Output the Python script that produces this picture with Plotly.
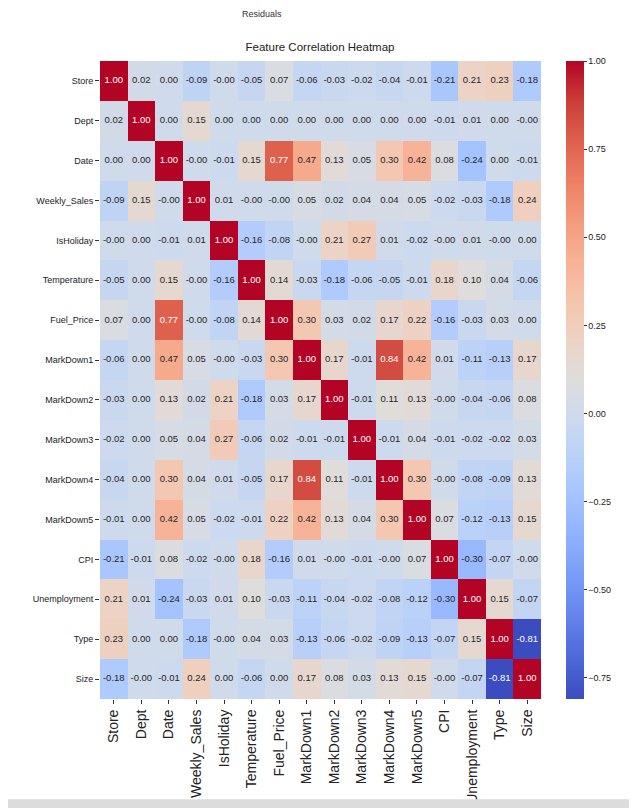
import plotly.graph_objects as go

labels = ["Store", "Dept", "Date", "Weekly_Sales", "IsHoliday", "Temperature",
          "Fuel_Price", "MarkDown1", "MarkDown2", "MarkDown3", "MarkDown4",
          "MarkDown5", "CPI", "Unemployment", "Type", "Size"]

row_store = [1.00, 0.02, 0.00, -0.09, -0.0, -0.05, 0.07, -0.06, -0.03, -0.02, -0.04, -0.01, -0.21, 0.21, 0.23, -0.18]
row_dept = [0.02, 1.00, 0.00, 0.15, 0.00, 0.00, 0.00, 0.00, 0.00, 0.00, 0.00, 0.00, -0.01, 0.01, 0.00, -0.0]
row_date = [0.00, 0.00, 1.00, -0.0, -0.01, 0.15, 0.77, 0.47, 0.13, 0.05, 0.30, 0.42, 0.08, -0.24, 0.00, -0.01]
row_weekly = [-0.09, 0.15, -0.0, 1.00, 0.01, -0.0, -0.0, 0.05, 0.02, 0.04, 0.04, 0.05, -0.02, -0.03, -0.18, 0.24]
row_holiday = [-0.0, 0.00, -0.01, 0.01, 1.00, -0.16, -0.08, -0.0, 0.21, 0.27, 0.01, -0.02, -0.0, 0.01, -0.0, 0.00]
row_temp = [-0.05, 0.00, 0.15, -0.0, -0.16, 1.00, 0.14, -0.03, -0.18, -0.06, -0.05, -0.01, 0.18, 0.10, 0.04, -0.06]
row_fuel = [0.07, 0.00, 0.77, -0.0, -0.08, 0.14, 1.00, 0.30, 0.03, 0.02, 0.17, 0.22, -0.16, -0.03, 0.03, 0.00]
row_md1 = [-0.06, 0.00, 0.47, 0.05, -0.0, -0.03, 0.30, 1.00, 0.17, -0.01, 0.84, 0.42, 0.01, -0.11, -0.13, 0.17]
row_md2 = [-0.03, 0.00, 0.13, 0.02, 0.21, -0.18, 0.03, 0.17, 1.00, -0.01, 0.11, 0.13, -0.0, -0.04, -0.06, 0.08]
row_md3 = [-0.02, 0.00, 0.05, 0.04, 0.27, -0.06, 0.02, -0.01, -0.01, 1.00, -0.01, 0.04, -0.01, -0.02, -0.02, 0.03]
row_md4 = [-0.04, 0.00, 0.30, 0.04, 0.01, -0.05, 0.17, 0.84, 0.11, -0.01, 1.00, 0.30, -0.0, -0.08, -0.09, 0.13]
row_md5 = [-0.01, 0.00, 0.42, 0.05, -0.02, -0.01, 0.22, 0.42, 0.13, 0.04, 0.30, 1.00, 0.07, -0.12, -0.13, 0.15]
row_cpi = [-0.21, -0.01, 0.08, -0.02, -0.0, 0.18, -0.16, 0.01, -0.0, -0.01, -0.0, 0.07, 1.00, -0.30, -0.07, -0.0]
row_unemp = [0.21, 0.01, -0.24, -0.03, 0.01, 0.10, -0.03, -0.11, -0.04, -0.02, -0.08, -0.12, -0.30, 1.00, 0.15, -0.07]
row_type = [0.23, 0.00, 0.00, -0.18, -0.0, 0.04, 0.03, -0.13, -0.06, -0.02, -0.09, -0.13, -0.07, 0.15, 1.00, -0.81]
row_size = [-0.18, -0.0, -0.01, 0.24, 0.00, -0.06, 0.00, 0.17, 0.08, 0.03, 0.13, 0.15, -0.0, -0.07, -0.81, 1.00]

corr = [row_store, row_dept, row_date, row_weekly, row_holiday, row_temp, row_fuel,
        row_md1, row_md2, row_md3, row_md4, row_md5, row_cpi, row_unemp, row_type, row_size]

colorbar_ticks = [-0.75, -0.5, -0.25, 0.0, 0.25, 0.5, 0.75, 1.0]

coolwarm = [
    [0.0, "rgb(59,76,192)"], [0.0625, "rgb(77,104,215)"], [0.125, "rgb(98,130,234)"],
    [0.1875, "rgb(119,154,247)"], [0.25, "rgb(141,176,254)"], [0.3125, "rgb(163,194,255)"],
    [0.375, "rgb(184,208,249)"], [0.4375, "rgb(204,217,238)"], [0.5, "rgb(221,221,221)"],
    [0.5625, "rgb(236,211,197)"], [0.625, "rgb(245,196,173)"], [0.6875, "rgb(247,177,148)"],
    [0.75, "rgb(244,154,123)"], [0.8125, "rgb(236,127,99)"], [0.875, "rgb(222,96,77)"],
    [0.9375, "rgb(203,62,56)"], [1.0, "rgb(180,4,38)"],
]

FONT = "Liberation Sans, Arial, sans-serif"
zmin, zmax = -0.81, 1.0
n = len(labels)

fig = go.Figure()
fig.add_trace(go.Heatmap(
    z=corr, x=labels, y=labels, colorscale=coolwarm, zmin=zmin, zmax=zmax,
    xgap=0, ygap=0, hoverinfo="skip",
    colorbar=dict(
        x=1.057, xanchor="left", xref="paper", y=0.5, yanchor="middle", len=1.0,
        lenmode="fraction", thickness=18, outlinewidth=0, xpad=0, ypad=0,
        tickvals=colorbar_ticks, tickformat=".2f", ticks="outside", ticklen=3,
        tickcolor="#333", tickfont=dict(family=FONT, size=9, color="#222"),
    ),
))

tx, ty, tt, tc = [], [], [], []
for i, rl in enumerate(labels):
    for j, cl in enumerate(labels):
        v = corr[i][j]
        tx.append(cl)
        ty.append(rl)
        tt.append(f"{v:.2f}")
        tc.append("white" if (v >= 0.6 or v <= -0.6) else "#262626")

fig.add_trace(go.Scatter(
    x=tx, y=ty, mode="text", text=tt, hoverinfo="skip", showlegend=False,
    textfont=dict(family=FONT, size=9.5, color=tc),
))

# body of the html page has an 8px margin; shift the layout up/left to compensate
OFF = 8
fig.update_layout(
    width=637, height=808,
    margin=dict(l=100 - OFF, r=96 + OFF, t=61 - OFF, b=109 + OFF, autoexpand=False),
    paper_bgcolor="white", plot_bgcolor="white",
    title=dict(text="Feature Correlation Heatmap", x=(320 - OFF) / 637, xanchor="center",
               y=1 - (47 - OFF) / 808, yanchor="middle",
               font=dict(family=FONT, size=11.5, color="#222")),
    xaxis=dict(tickangle=-90, ticks="outside", ticklen=4, tickcolor="#333",
               range=[-0.5, n - 0.5],
               tickfont=dict(family=FONT, size=14, color="#222"), automargin=False,
               showgrid=False, zeroline=False, showline=False),
    yaxis=dict(range=[n - 0.5, -0.5], ticks="outside", ticklen=4, tickcolor="#333",
               tickfont=dict(family=FONT, size=9, color="#222"), automargin=False,
               showgrid=False, zeroline=False, showline=False),
    annotations=[dict(text="Residuals", xref="paper", yref="paper", x=0.367,
                      y=1 + 47 / 636, xanchor="center", yanchor="middle",
                      showarrow=False, font=dict(family=FONT, size=9, color="#333"))],
    shapes=[dict(type="rect", xref="paper", yref="paper", x0=-0.3, x1=1.3,
                 y0=-(808 - 699) / 636 - 0.01, y1=-(799 - 699) / 636,
                 fillcolor="#dcdcdc", line=dict(width=0), layer="above")],
)

fig.write_html("out.html")
